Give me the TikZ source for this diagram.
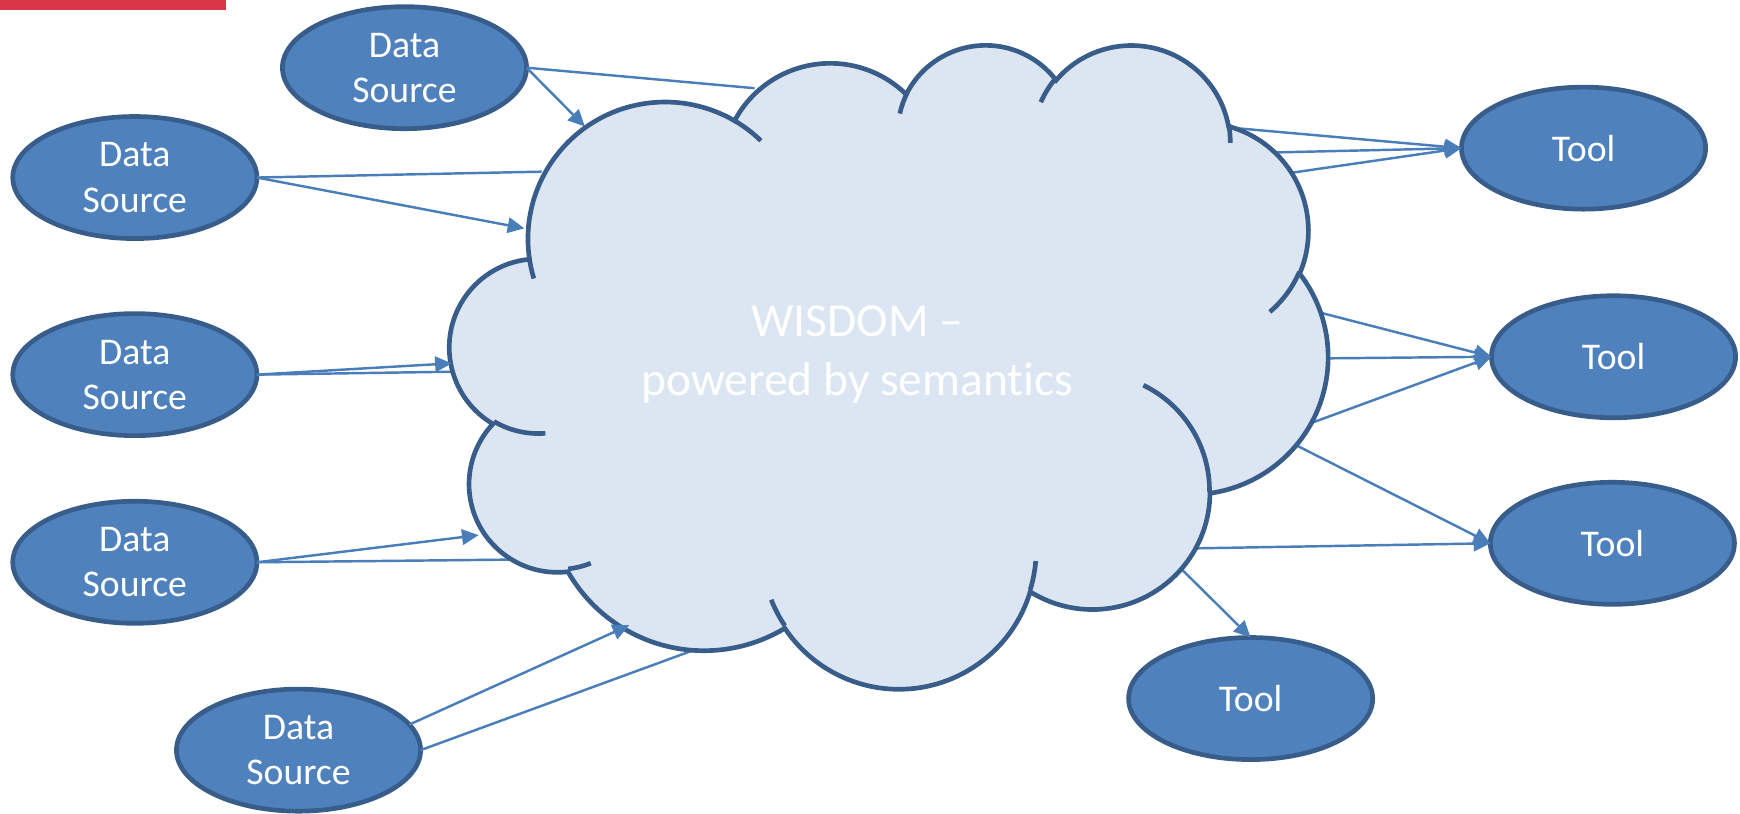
\documentclass[tikz,border=0pt]{standalone}
\usepackage{fontspec}
\setmainfont{Carlito}[Ligatures=NoCommon]
\usetikzlibrary{shapes.geometric,arrows.meta}

\definecolor{barred}{RGB}{218,54,74}
\definecolor{ovalfill}{HTML}{4F81BD}
\definecolor{ovalline}{HTML}{385D8A}
\definecolor{cloudfill}{HTML}{DCE6F2}
\definecolor{linkblue}{HTML}{4A7EBB}

\tikzset{
  oval/.style={ellipse, draw=ovalline, line width=2.1pt, fill=ovalfill, text=white,
    minimum width=110pt, minimum height=55pt, inner sep=0pt, outer sep=0pt,
    align=center, font=\fontsize{17pt}{20.3pt}\selectfont},
  link/.style={draw=linkblue, line width=1.1pt},
  arr/.style={link, -{Triangle[length=7.5pt,width=7pt]}},
  cloudline/.style={draw=ovalline, line width=2.1pt},
  % elliptic arc given by start angle and sweep as seen on the page
  ooarc/.style n args={4}{start angle={vang(#3,#1,#2)}, delta angle={vdel(#3,#4,#1,#2)},
    x radius=#1, y radius=#2}
}

\begin{document}
\begin{tikzpicture}[x=0.5pt, y=-0.5pt,
    declare function={
      vang(\a,\w,\h)=atan2(\w*sin(\a),\h*cos(\a));
      vdel(\a,\s,\w,\h)=mod(atan2(\w*sin(\a+\s),\h*cos(\a+\s))-atan2(\w*sin(\a),\h*cos(\a))-\s+900,360)-180+\s;
    }]
  \useasboundingbox (0,0) rectangle (1568,733);

  % Red bar
  \fill[barred] (0,0) rectangle (203.7,9);

  % Data sources
  \node[oval] (ds1) at (364.5,61) {Data\\Source};
  \node[oval] (ds2) at (121.5,160) {Data\\Source};
  \node[oval] (ds3) at (121.5,337.6) {Data\\Source};
  \node[oval] (ds4) at (121.5,506.7) {Data\\Source};
  \node[oval] (ds5) at (269,676) {Data\\Source};

  % Tools
  \node[oval] (t1) at (1427,133.5) {Tool};
  \node[oval] (t2) at (1454,321.5) {Tool};
  \node[oval] (t3) at (1453,489.6) {Tool};
  \node[oval] (t4) at (1127,629.5) {Tool};

  % Ends under the cloud edge
  \coordinate (h1) at (680,79.5);
  \coordinate (h2) at (488,154.7);
  \coordinate (h3) at (406.3,335);
  \coordinate (h4) at (458.6,504.3);
  \coordinate (h5) at (623.6,586.4);
  % Arrow tips on the cloud
  \coordinate (a1) at (527,114);
  \coordinate (a2) at (472.5,205.8);
  \coordinate (a3) at (407.1,327.4);
  \coordinate (a4) at (431.3,482.2);
  \coordinate (a5) at (567,563.4);
  % Outgoing links start inside the cloud
  \coordinate (o1) at (1115.2,115.6);
  \coordinate (o2) at (1143.3,137.5);
  \coordinate (o3) at (1156.9,156.7);
  \coordinate (o4) at (1184.9,280.5);
  \coordinate (o5) at (1187.3,323);
  \coordinate (o6) at (1171.3,385);
  \coordinate (o7) at (1152.7,393.5);
  \coordinate (o8) at (1067.7,494.3);
  \coordinate (o9) at (1052.2,500.5);

  % Links behind the cloud
  \foreach \s/\e in {ds1.east/h1, ds2.east/h2, ds3.east/h3, ds4.east/h4, ds5.east/h5}
    \draw[link] (\s) -- (\e);
  \foreach \s/\e in {o1/t1.west, o2/t1.west, o3/t1.west, o4/t2.west, o5/t2.west,
                     o6/t2.west, o7/t3.west, o8/t3.west, o9/t4.north}
    \draw[arr] (\s) -- (\e);

  % Cloud
  \begin{scope}[shift={(202.75pt,-19.5pt)}, x=9.1551pt, y=-6.7130pt]
    \draw[cloudline, fill=cloudfill] (3.900,14.370)
      arc[ooarc={6.753}{9.190}{-190.4875}{123.7805}]
      arc[ooarc={5.333}{7.267}{-144.1024}{89.9452}]
      arc[ooarc={4.365}{5.945}{-145.8079}{99.7230}]
      arc[ooarc={4.857}{6.595}{-130.9861}{117.2417}]
      arc[ooarc={5.333}{7.273}{-78.7089}{109.0269}]
      arc[ooarc={6.775}{9.220}{-46.2673}{130.2690}]
      arc[ooarc={5.785}{7.867}{0.6250}{114.0333}]
      arc[ooarc={6.752}{9.215}{22.4516}{115.1726}]
      arc[ooarc={7.720}{10.543}{66.2426}{75.7110}]
      arc[ooarc={4.360}{5.918}{-274.9421}{146.7356}]
      arc[ooarc={4.345}{5.945}{-246.8285}{152.5189}]
      -- cycle;
    % inner folds
    \draw[cloudline]
      (4.693,26.177) arc[ooarc={4.345}{5.945}{86.7420}{26.4295}]
      (6.928,34.899) arc[ooarc={4.360}{5.918}{73.6105}{11.4475}]
      (16.478,39.090) arc[ooarc={6.752}{9.215}{137.6242}{14.0811}]
      (28.827,34.751) arc[ooarc={6.752}{9.215}{6.4533}{15.9984}]
      (34.129,22.954) arc[ooarc={5.785}{7.867}{-70.2924}{70.9174}]
      (41.798,15.354) arc[ooarc={5.333}{7.273}{30.3180}{27.7515}]
      (38.324,5.426) arc[ooarc={4.857}{6.595}{-13.7443}{14.8589}]
      (29.078,3.952) arc[ooarc={4.857}{6.595}{-149.1815}{18.1954}]
      (22.141,4.720) arc[ooarc={4.365}{5.945}{-163.4943}{17.6864}]
      (14.000,5.192) arc[ooarc={6.753}{9.190}{-66.7070}{12.3194}]
      (4.127,15.789) arc[ooarc={6.753}{9.190}{157.6544}{11.8582}];
  \end{scope}
  \node[text=white, align=center, font=\fontsize{21.4pt}{26.6pt}\selectfont] (wisdom)
    at (772.5,319) {WISDOM –\\powered by semantics};

  % Links onto the cloud
  \draw[arr] (ds1.east) -- (a1);
  \draw[arr] (ds2.east) -- (a2);
  \draw[arr] (ds3.east) -- (a3);
  \draw[arr] (ds4.east) -- (a4);
  \draw[arr] (ds5.13) -- (a5);
\end{tikzpicture}
\end{document}
